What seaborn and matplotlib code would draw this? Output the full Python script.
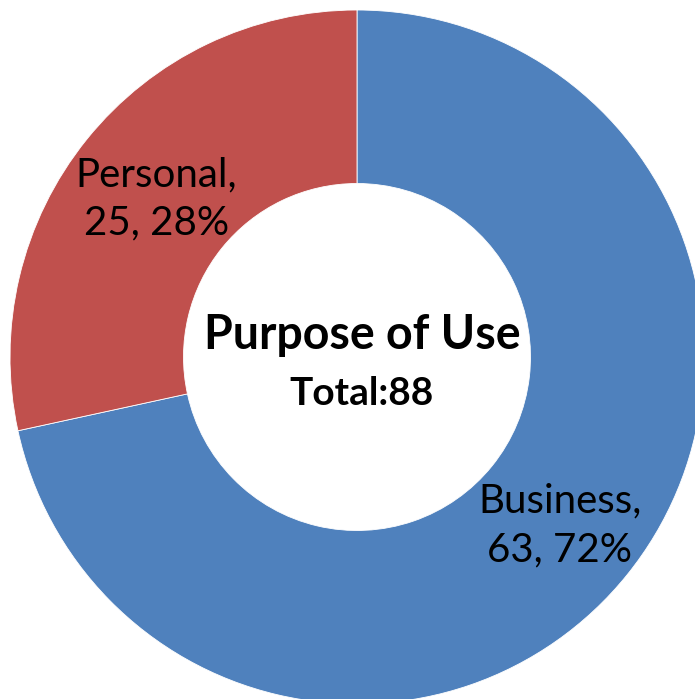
import matplotlib
matplotlib.use("Agg")
import matplotlib.pyplot as plt
import seaborn as sns

categories = ["Business", "Personal"]
counts = [63, 25]
colors = ["#4F81BD", "#C0504D"]
title = "Purpose of Use"

sns.set_theme(style="white")
plt.rcParams['font.family'] = ['Lato', 'DejaVu Sans']

total = sum(counts)

fig = plt.figure(figsize=(6.95, 6.99), dpi=100)
ax = fig.add_axes([0, 0, 1, 1])

wedges, _ = ax.pie(counts, colors=colors, startangle=90, counterclock=False,
                   radius=1.0, wedgeprops=dict(width=0.5, edgecolor="white", linewidth=0.6))

# label positions (data coords, centre of donut at 0,0)
label_pos = {"Business": (0.585, -0.485), "Personal": (-0.579, 0.456)}
for cat, val in zip(categories, counts):
    pct = round(val / total * 100)
    x, y = label_pos[cat]
    ax.text(x, y, f"{cat},\n{val}, {pct}%", ha="center", va="center",
            fontsize=29, color="black", linespacing=1.38)

ax.text(0.014, 0.063, title, ha="center", va="center", fontsize=33.5,
        fontweight="bold", color="black")
ax.text(0.014, -0.104, f"Total:{total}", ha="center", va="center", fontsize=28,
        fontweight="bold", color="black")

ax.set_xlim(-357 / 347, (695 - 357) / 347)
ax.set_ylim(-(699 - 357) / 347, 357 / 347)
ax.set_aspect("auto")
ax.axis("off")

fig.savefig("out.png", dpi=100)
